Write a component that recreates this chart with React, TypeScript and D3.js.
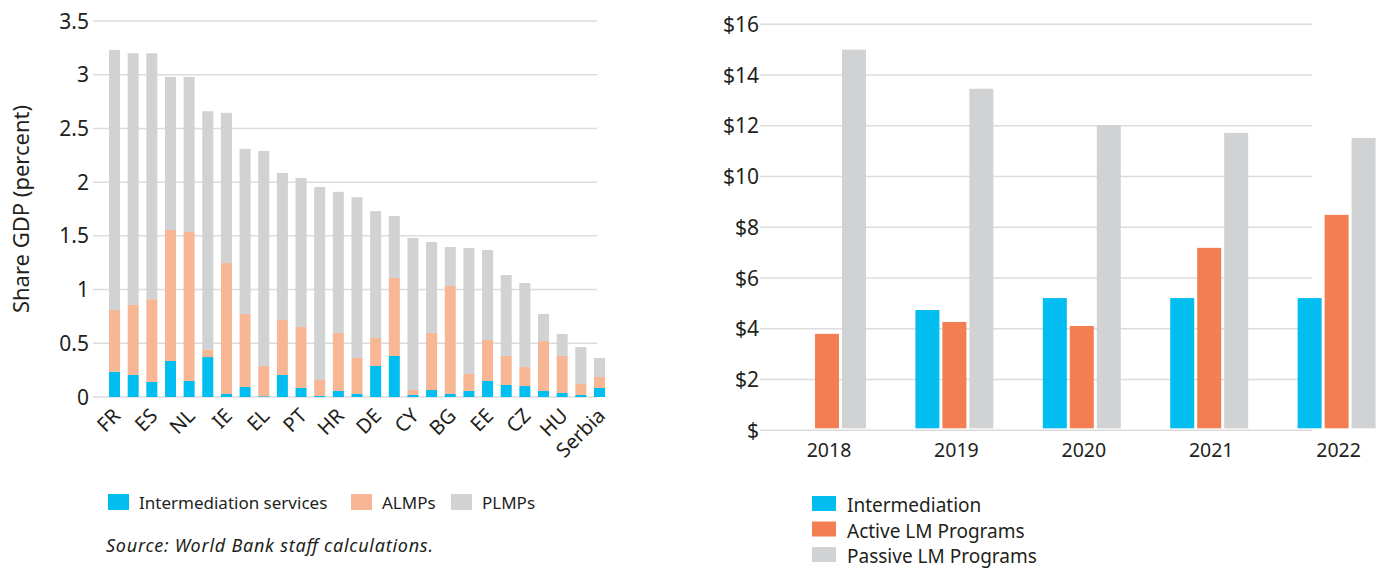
import * as d3 from "d3";

// Left chart: share of GDP by country (stacked)
const countries = [
  "FR", "FI", "ES", "AT", "NL", "DK", "IE", "BE", "EL", "LU", "PT", "SE", "HR", "IT",
  "DE", "LT", "CY", "SI", "BG", "LV", "EE", "SK", "CZ", "PL", "HU", "RO", "Serbia",
];
const intermediation = [
  0.235, 0.205, 0.14, 0.335, 0.149, 0.372, 0.028, 0.093, 0.007, 0.205, 0.084, 0.01, 0.056, 0.028,
  0.289, 0.382, 0.019, 0.065, 0.028, 0.056, 0.149, 0.112, 0.102, 0.056, 0.037, 0.019, 0.084,
];
const almps = [
  0.575, 0.652, 0.77, 1.22, 1.387, 0.068, 1.219, 0.68, 0.282, 0.512, 0.568, 0.148, 0.54, 0.335,
  0.26, 0.726, 0.046, 0.531, 1.005, 0.158, 0.382, 0.27, 0.177, 0.465, 0.345, 0.102, 0.102,
];
const plmps = [
  2.42, 2.343, 2.29, 1.425, 1.444, 2.22, 1.398, 1.537, 2.001, 1.368, 1.388, 1.797, 1.314, 1.497,
  1.181, 0.577, 1.415, 0.847, 0.363, 1.173, 0.837, 0.754, 0.782, 0.252, 0.205, 0.344, 0.177,
];
const leftTicks = [0, 0.5, 1, 1.5, 2, 2.5, 3, 3.5];

// Right chart: spending by year
const years = ["2018", "2019", "2020", "2021", "2022"];
const seriesNames = ["Intermediation", "Active LM Programs", "Passive LM Programs"];
const intermediationSpend = [null, 4.74, 5.21, 5.21, 5.21];
const activeSpend = [3.8, 4.27, 4.11, 7.19, 8.49];
const passiveSpend = [15.0, 13.46, 12.03, 11.72, 11.52];
const rightTicks = [0, 2, 4, 6, 8, 10, 12, 14, 16];

const BLUE = "#02bdf0";
const SALMON = "#f7b795";
const GRAY = "#d1d2d4";
const ORANGE = "#f27e51";
const GRID = "#dcdcdc";
const TEXT = "#231f20";
const FONT = "'Noto Sans', sans-serif";

function LeftChart() {
  const x = d3
    .scaleBand<string>()
    .domain(countries)
    .range([105.2, 608.8])
    .paddingInner(0.41)
    .paddingOuter(0.205);
  const y = d3.scaleLinear().domain([0, 3.5]).range([397, 21]);

  const rows = countries.map((c, i) => ({
    c,
    Intermediation: intermediation[i],
    ALMPs: almps[i],
    PLMPs: plmps[i],
  }));
  const keys = ["Intermediation", "ALMPs", "PLMPs"];
  const colors = [BLUE, SALMON, GRAY];
  const stack = d3.stack<any>().keys(keys)(rows);

  return (
    <g>
      {leftTicks.map((t) => (
        <g key={t}>
          <line x1={93} x2={597} y1={y(t)} y2={y(t)} stroke={GRID} strokeWidth={1.5} />
          <text x={89} y={y(t)} dy="0.36em" textAnchor="end" fontSize={21} fill={TEXT}>
            {t}
          </text>
        </g>
      ))}
      <text
        transform={`translate(29, 209) rotate(-90)`}
        textAnchor="middle"
        fontSize={22}
        fill={TEXT}
      >
        Share GDP (percent)
      </text>
      {stack.map((layer, li) => (
        <g key={layer.key} fill={colors[li]}>
          {layer.map((d, i) => (
            <rect
              key={i}
              x={x(countries[i])}
              width={x.bandwidth()}
              y={y(d[1])}
              height={Math.max(0, y(d[0]) - y(d[1]))}
            />
          ))}
        </g>
      ))}
      {countries.map((c, i) =>
        i % 2 === 0 ? (
          <text
            key={c}
            transform={`translate(${(x(c) as number) + x.bandwidth() / 2 + 7}, 417) rotate(-45)`}
            textAnchor="end"
            fontSize={20}
            fill={TEXT}
          >
            {c}
          </text>
        ) : null
      )}
      {/* legend */}
      {[
        { label: "Intermediation services", color: BLUE, x: 108 },
        { label: "ALMPs", color: SALMON, x: 351 },
        { label: "PLMPs", color: GRAY, x: 451 },
      ].map((l) => (
        <g key={l.label}>
          <rect x={l.x} y={494} width={21} height={16} fill={l.color} />
          <text x={l.x + 31} y={509} fontSize={17} fill={TEXT}>
            {l.label}
          </text>
        </g>
      ))}
      <text
        x={106}
        y={552}
        fontSize={18}
        fontStyle="italic"
        fill={TEXT}
        textLength={327}
        lengthAdjust="spacing"
      >
        Source: World Bank staff calculations.
      </text>
    </g>
  );
}

function RightChart() {
  const x0 = d3.scaleBand<string>().domain(years).range([788, 1375.6]).paddingInner(0.388).paddingOuter(0);
  const x1 = d3.scaleBand<string>().domain(seriesNames).range([0, x0.bandwidth()]).paddingInner(0.111);
  const y = d3.scaleLinear().domain([0, 16]).range([430.3, 24.3]);
  const data = [intermediationSpend, activeSpend, passiveSpend];
  const colors = [BLUE, ORANGE, GRAY];

  return (
    <g>
      {rightTicks.map((t) => (
        <g key={t}>
          <line x1={760} x2={1312} y1={y(t)} y2={y(t)} stroke={GRID} strokeWidth={1.5} />
          <text x={759} y={y(t)} dy="0.36em" textAnchor="end" fontSize={21} fill={TEXT}>
            {t === 0 ? "$" : `$${t}`}
          </text>
        </g>
      ))}
      {years.map((yr, i) => (
        <g key={yr}>
          {seriesNames.map((s, si) => {
            const v = data[si][i];
            if (v == null) return null;
            return (
              <rect
                key={s}
                x={(x0(yr) as number) + (x1(s) as number)}
                width={x1.bandwidth()}
                y={y(v)}
                height={y(0) - y(v) - 2}
                fill={colors[si]}
              />
            );
          })}
          <text
            x={(x0(yr) as number) + x0.bandwidth() / 2 + 2}
            y={457}
            textAnchor="middle"
            fontSize={19.5}
            fill={TEXT}
          >
            {yr}
          </text>
        </g>
      ))}
      {seriesNames.map((s, i) => (
        <g key={s}>
          <rect x={812} y={496 + i * 25.5} width={24} height={15} fill={colors[i]} />
          <text x={847} y={512 + i * 25.5} fontSize={19} fill={TEXT}>
            {s}
          </text>
        </g>
      ))}
    </g>
  );
}

export default function App() {
  return (
    <svg
      width={1380}
      height={568}
      style={{ position: "absolute", top: 0, left: 0, display: "block", background: "#fff" }}
      fontFamily={FONT}
    >
      <LeftChart />
      <RightChart />
    </svg>
  );
}
